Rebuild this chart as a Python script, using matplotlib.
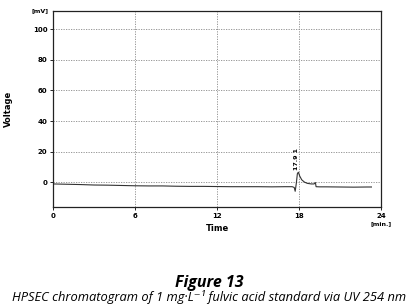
import matplotlib.pyplot as plt

# chromatogram trace
time = [0.0, 1.0, 2.0, 3.0, 4.0, 5.0, 6.0, 7.0, 8.0, 9.0, 10.0, 11.0, 12.0, 13.0,
        14.0, 15.0, 16.0, 17.0, 17.5, 17.65, 17.72, 17.8, 17.88, 17.95, 18.05,
        18.2, 18.4, 18.6, 18.9, 19.1, 19.2, 19.25, 19.5, 20.0, 21.0, 22.0, 23.0, 23.3]
voltage = [-1.2, -1.4, -1.6, -1.9, -2.0, -2.2, -2.4, -2.5, -2.5, -2.7, -2.8, -2.8, -2.9, -3.0,
           -3.0, -3.0, -3.1, -3.0, -3.0, -3.5, -6.0, -1.0, 5.5, 6.5, 4.0,
           1.5, 0.0, -0.8, -1.2, -1.2, -0.3, -3.0, -3.1, -3.1, -3.2, -3.3, -3.2, -3.2]
peak_time = 17.9
peak_label = "17.9 1"

xticks = [0, 6, 12, 18, 24]
yticks = [0, 20, 40, 60, 80, 100]

fig = plt.figure(figsize=(4.18, 3.07), dpi=100)
ax = fig.add_axes([0.1268, 0.3257, 0.7847, 0.6384])

ax.plot(time, voltage, color='#333333', lw=0.8)
ax.set_xlim(0, 24)
ax.set_ylim(-16.3, 112)
ax.set_xticks(xticks)
ax.set_yticks(yticks)
ax.tick_params(labelsize=5, length=2, width=0.6, pad=2)
for lab in ax.get_xticklabels() + ax.get_yticklabels():
    lab.set_fontweight('bold')
ax.grid(True, linestyle=(0, (1.5, 1.5)), color='#888888', lw=0.6)
for s in ax.spines.values():
    s.set_linewidth(0.9)
    s.set_color('#222222')

ax.set_xlabel("Time", fontsize=6, fontweight='bold', labelpad=4)
ax.set_ylabel("Voltage", fontsize=6, fontweight='bold', labelpad=14)
ax.text(-0.015, 1.0, "[mV]", transform=ax.transAxes, ha='right', va='center',
        fontsize=4.5, fontweight='bold')
ax.text(24, -27.5, "[min.]", ha='center', va='center', fontsize=4.5, fontweight='bold')
ax.text(peak_time - 0.05, 8, peak_label, rotation=90, ha='center', va='bottom',
        fontsize=4.5, fontweight='bold')

fig.text(0.5, 0.078, "Figure 13", ha='center', va='center', fontsize=11.5,
         fontweight='bold', style='italic', family=['Open Sans', 'DejaVu Sans'])
fig.text(0.5, 0.033, "HPSEC chromatogram of 1 mg\u00b7L\u207b\u00b9 fulvic acid standard via UV 254 nm",
         ha='center', va='center', fontsize=9.3, style='italic',
         family=['Open Sans', 'DejaVu Sans'])

fig.savefig("out.png", dpi=100)
